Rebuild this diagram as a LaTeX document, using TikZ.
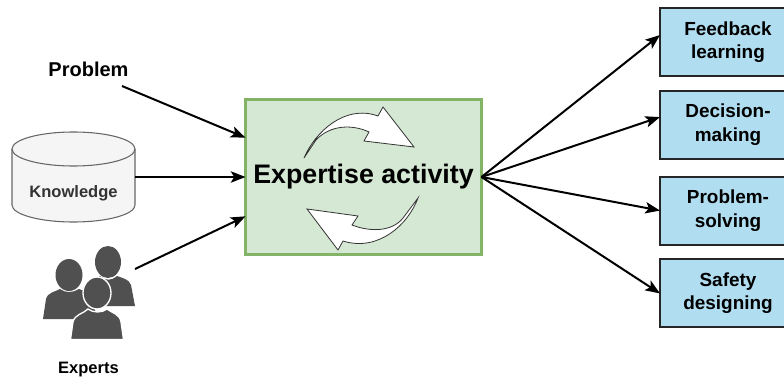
\documentclass[tikz,border=0pt]{standalone}
\usepackage{fontspec}
\setmainfont{Liberation Sans}
\usetikzlibrary{positioning, arrows.meta}

\definecolor{greenfill}{HTML}{D5E8D4}
\definecolor{greenline}{HTML}{82B366}
\definecolor{bluefill}{HTML}{B1DDF0}
\definecolor{peoplegray}{HTML}{505050}
\definecolor{dbfill}{HTML}{F5F5F5}
\definecolor{dbline}{HTML}{666666}
\definecolor{dbtext}{HTML}{333333}

\begin{document}
\begin{tikzpicture}[x=0.75pt, y=-0.75pt]
	% Define styles
	\tikzset{
		outcome/.style={rectangle, draw=black!85, line width=1.5pt, fill=bluefill, minimum width=102pt, minimum height=51pt, outer sep=0pt, align=center, font=\fontsize{14.2}{17.5}\selectfont\bfseries},
		activity/.style={rectangle, draw=greenline, line width=1.9pt, fill=greenfill, minimum width=177pt, minimum height=116pt, outer sep=0pt, font=\fontsize{20.1}{24}\selectfont\bfseries},
		database/.style={draw=dbline, line width=0.8pt, fill=dbfill},
		dbslot/.style={rectangle, minimum width=92.25pt, minimum height=67pt, outer sep=0pt, inner sep=0pt},
		caption/.style={font=\fontsize{12.4}{15}\selectfont\bfseries},
		line/.style={draw, line width=1.5pt, -{Stealth[length=11pt, width=8.5pt, inset=2.5pt]}},
		swirl/.style={draw=black!80, line width=0.6pt, fill=white},
		person/.style={fill=peoplegray},
		frontperson/.style={fill=peoplegray, draw=white, line width=1pt}
	}
	\useasboundingbox (0,0) rectangle (784,381);

	% Nodes
	\node[activity] (work) at (363.5,177) {Expertise activity};

	\node[outcome] (feedback) at (728,42) {Feedback\\learning};
	\node[outcome, below=10.9pt of feedback] (decision) {Decision-\\making};
	\node[outcome, below=13.5pt of decision] (solving) {Problem-\\solving};
	\node[outcome, below=11.2pt of solving] (safety) {Safety\\designing};

	\node[font=\fontsize{15}{18}\selectfont\bfseries] (problem) at (88.5,69) {Problem};
	\node[dbslot] (knowledge) at (73.5,177) {};

	% Database drum
	\path[database] (12,149) .. controls (12,139.6) and (39.5,132) .. (73.5,132)
		.. controls (107.5,132) and (135,139.6) .. (135,149) -- (135,205)
		.. controls (135,214.4) and (107.5,222) .. (73.5,222)
		.. controls (39.5,222) and (12,214.4) .. (12,205) -- cycle;
	\path[database, fill=none] (12,149) .. controls (12,158.4) and (39.5,166) .. (73.5,166)
		.. controls (107.5,166) and (135,158.4) .. (135,149);
	\node[caption, text=dbtext] (knowledgetext) at (73.5,193) {Knowledge};
	\node[caption] (experts) at (88.5,370) {Experts};

	% Experts icon
	\fill[person] (108,262) ellipse (13 and 16);
	\path[person] (90,306) -- (90,290) .. controls (92,281) and (97,279) .. (100,276)
		.. controls (106,281) and (111,281) .. (117,276)
		.. controls (122,278) and (129,279) .. (131,285) -- (135,306) -- cycle;
	\fill[person] (69,275) ellipse (13.5 and 16);
	\path[person] (43,319) -- (46,299) .. controls (48,292) and (55,292) .. (60,289)
		.. controls (65,293) and (73,293) .. (79,289)
		.. controls (84,291) and (92,293) .. (94,299) -- (96,319) -- cycle;
	\path[frontperson] (70.5,339.5) -- (73,322) .. controls (75,314) and (83,314) .. (88,309)
		.. controls (93,313) and (102,313) .. (107,309)
		.. controls (112,313) and (120,314) .. (121,322) -- (123.5,339.5) -- cycle;
	\path[frontperson] (97,293) ellipse (14 and 16);

	% Arrows inside the activity
	\path[swirl] (304,158) .. controls (315,132) and (345,104) .. (378,116)
		-- (383,107) -- (414,147) -- (364,141) -- (369,132)
		.. controls (352,124) and (330,125) .. (316,140) -- cycle;
	\path[swirl] (418,198) .. controls (408,225) and (378,252) .. (343,241)
		-- (338,250) -- (307,209) -- (358,216) -- (352,225)
		.. controls (370,232) and (392,232) .. (403,218) -- cycle;

	% Free ends
	\coordinate (problemend) at (122,86);
	\coordinate (expertsend) at (135,269);

	% Arrows
	\draw[line] (problemend) -- ([yshift=29.5pt]work.west);
	\draw[line] (knowledge.east) -- (work.west);
	\draw[line] (expertsend) -- ([yshift=-29.5pt]work.west);

	\draw[line] (work.east) -- ([yshift=5.2pt]feedback.west);
	\draw[line] (work.east) -- ([yshift=5.6pt]decision.west);
	\draw[line] (work.east) -- (solving.west);
	\draw[line] (work.east) -- (safety.west);

\end{tikzpicture}
\end{document}
